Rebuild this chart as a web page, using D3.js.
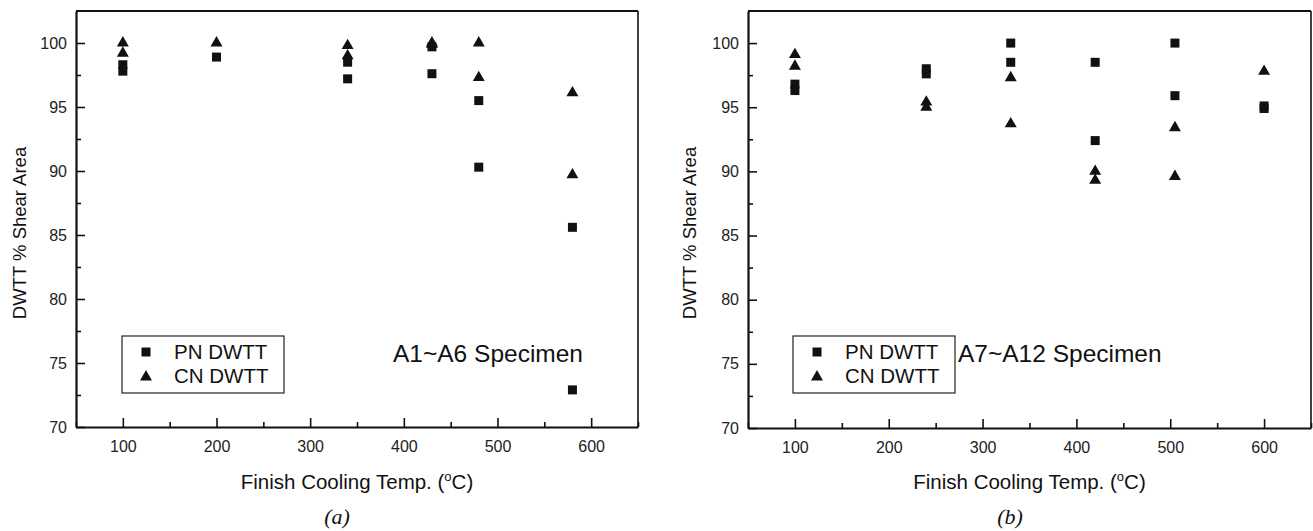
<!DOCTYPE html>
<html>
<head>
<meta charset="utf-8">
<script src="https://cdn.jsdelivr.net/npm/d3@7"></script>
<style>
  body { margin: 0; background: #fff; }
  svg { display: block; font-family: Arial, "Liberation Sans", sans-serif; }
</style>
</head>
<body>
<div id="drawing"></div>
<script>
// tick values
var xTicks = [100, 200, 300, 400, 500, 600];
var xMinor = [50, 150, 250, 350, 450, 550, 650];
var yTicks = [70, 75, 80, 85, 90, 95, 100];
var yMinor = [72.5, 77.5, 82.5, 87.5, 92.5, 97.5];

// panel (a) A1~A6
var aPnX = [100, 100, 200, 340, 340, 430, 430, 480, 480, 580, 580];
var aPnY = [98.3, 97.8, 98.9, 98.5, 97.2, 99.7, 97.6, 95.5, 90.3, 85.6, 72.9];
var aCnX = [100, 100, 200, 340, 340, 430, 430, 480, 480, 580, 580];
var aCnY = [100, 99.2, 100, 99.8, 99.0, 100, 99.9, 100, 97.3, 96.1, 89.7];

// panel (b) A7~A12
var bPnX = [100, 100, 240, 240, 330, 330, 420, 420, 505, 505, 600, 600];
var bPnY = [96.8, 96.3, 98.0, 97.6, 100, 98.5, 98.5, 92.4, 100, 95.9, 95.1, 94.9];
var bCnX = [100, 100, 240, 240, 330, 330, 420, 420, 505, 505, 600];
var bCnY = [99.1, 98.2, 95.4, 95.0, 97.3, 93.7, 90.0, 89.3, 93.4, 89.6, 97.8];

var legendNames = ["PN DWTT", "CN DWTT"];

var svg = d3.select("#drawing")
  .append("svg")
  .attr("width", 1313)
  .attr("height", 531);

var ink = "#111";

function panel(p) {
  var x = d3.scaleLinear().domain([50, 650]).range([p.x0, p.x1]);
  var y = d3.scaleLinear().domain([70, 102.5]).range([p.y0, p.y1]);

  var g = svg.append("g");

  // minor ticks first
  g.append("g")
    .attr("transform", "translate(0," + p.y0 + ")")
    .call(d3.axisBottom(x).tickValues(xMinor).tickSize(-5).tickFormat(""))
    .call(function(s) { s.select(".domain").remove(); });
  g.append("g")
    .attr("transform", "translate(" + p.x0 + ",0)")
    .call(d3.axisLeft(y).tickValues(yMinor).tickSize(-5).tickFormat(""))
    .call(function(s) { s.select(".domain").remove(); });

  var xa = g.append("g")
    .attr("transform", "translate(0," + p.y0 + ")")
    .call(d3.axisBottom(x).tickValues(xTicks).tickSize(-9).tickSizeOuter(0).tickPadding(14));
  var ya = g.append("g")
    .attr("transform", "translate(" + p.x0 + ",0)")
    .call(d3.axisLeft(y).tickValues(yTicks).tickSize(-9).tickSizeOuter(0).tickPadding(9));

  [xa, ya].forEach(function(a) {
    a.select(".domain").attr("stroke", ink).attr("stroke-width", 2.2);
    a.selectAll(".tick text").attr("fill", "#222").attr("font-size", 16)
      .attr("font-family", "Arial, 'Liberation Sans', sans-serif");
  });
  g.selectAll(".tick line").attr("stroke", ink).attr("stroke-width", 1.6);

  // top and right frame
  g.append("line").attr("x1", p.x0).attr("x2", p.x1).attr("y1", p.y1).attr("y2", p.y1)
    .attr("stroke", ink).attr("stroke-width", 2);
  g.append("line").attr("x1", p.x1).attr("x2", p.x1).attr("y1", p.y1).attr("y2", p.y0)
    .attr("stroke", ink).attr("stroke-width", 1.6);

  var sq = d3.symbol().type(d3.symbolSquare).size(81);
  var tri = d3.symbol().type(d3.symbolTriangle).size(62);

  g.selectAll(".pn").data(p.pnX).enter().append("path")
    .attr("d", sq)
    .attr("fill", ink)
    .attr("transform", function(d, i) { return "translate(" + x(d) + "," + y(p.pnY[i]) + ")"; });
  g.selectAll(".cn").data(p.cnX).enter().append("path")
    .attr("d", tri)
    .attr("fill", ink)
    .attr("transform", function(d, i) { return "translate(" + x(d) + "," + y(p.cnY[i]) + ")"; });

  // legend
  var lg = g.append("g");
  lg.append("rect")
    .attr("x", p.lx).attr("y", 336).attr("width", 162).attr("height", 57)
    .attr("fill", "#fff").attr("stroke", "#222").attr("stroke-width", 1.2);
  lg.append("path").attr("d", sq).attr("fill", ink)
    .attr("transform", "translate(" + (p.lx + 24) + ",352)");
  lg.append("path").attr("d", tri).attr("fill", ink)
    .attr("transform", "translate(" + (p.lx + 24) + ",377)");
  lg.selectAll("text").data(legendNames).enter().append("text")
    .attr("x", p.lx + 52)
    .attr("y", function(d, i) { return 359 + i * 24; })
    .attr("font-size", 20.5)
    .attr("fill", "#111")
    .text(function(d) { return d; });

  // specimen label
  g.append("text")
    .attr("x", p.sx).attr("y", 362)
    .attr("font-size", 24.5)
    .attr("fill", "#111")
    .text(p.label);

  // axis titles
  var xt = g.append("text")
    .attr("x", (p.x0 + p.x1) / 2).attr("y", 489)
    .attr("text-anchor", "middle")
    .attr("font-size", 20.5)
    .attr("fill", "#111");
  xt.append("tspan").text("Finish Cooling Temp. (");
  xt.append("tspan").attr("font-size", 13).attr("dy", -8).text("o");
  xt.append("tspan").attr("dy", 8).text("C)");

  g.append("text")
    .attr("transform", "translate(" + p.yt + ",233) rotate(-90)")
    .attr("text-anchor", "middle")
    .attr("font-size", 18.5)
    .attr("fill", "#111")
    .text("DWTT % Shear Area");

  g.append("text")
    .attr("x", p.cx).attr("y", 524)
    .attr("text-anchor", "middle")
    .attr("font-family", "'Liberation Serif', 'DejaVu Serif', serif")
    .attr("font-style", "italic")
    .attr("font-size", 22)
    .attr("fill", "#111")
    .text(p.tag);
}

panel({x0: 76, x1: 638, y0: 427, y1: 11, pnX: aPnX, pnY: aPnY, cnX: aCnX, cnY: aCnY,
  lx: 122, sx: 393, label: "A1~A6 Specimen", yt: 26, cx: 337, tag: "(a)"});
panel({x0: 748, x1: 1311, y0: 428, y1: 11, pnX: bPnX, pnY: bPnY, cnX: bCnX, cnY: bCnY,
  lx: 793, sx: 958, label: "A7~A12 Specimen", yt: 696, cx: 1010, tag: "(b)"});
</script>
</body>
</html>
